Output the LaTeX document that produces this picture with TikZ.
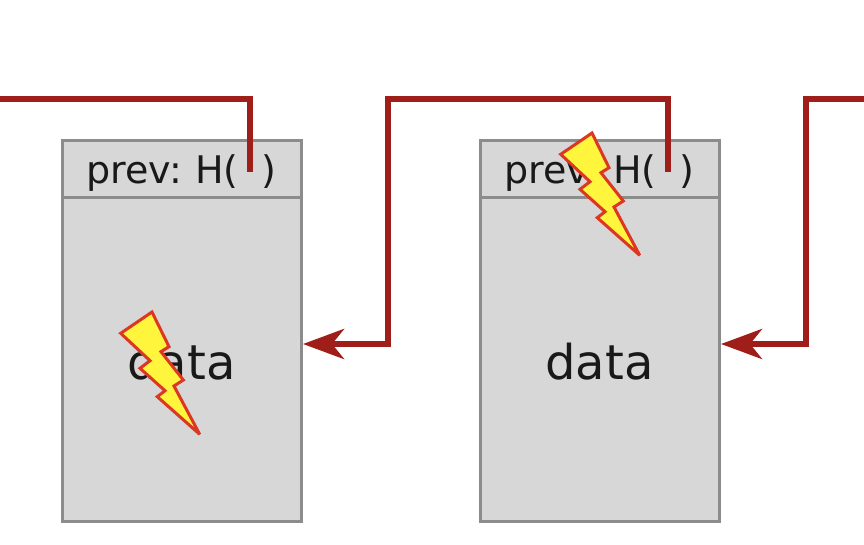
\documentclass[tikz,border=0pt]{standalone}
\usepackage{fontspec}
\setmainfont{DejaVu Sans}
\usetikzlibrary{positioning,arrows.meta}
\definecolor{boxfill}{RGB}{215,215,215}
\definecolor{boxline}{RGB}{140,140,140}
\definecolor{linkred}{RGB}{160,30,25}
\definecolor{boltline}{RGB}{220,55,35}
\definecolor{boltfill}{RGB}{255,245,60}
\definecolor{inktext}{RGB}{25,25,25}
\tikzset{
  hdr/.style = {draw=boxline, fill=boxfill, text=inktext, line width=3pt, outer sep=0pt, inner sep=0pt,
    minimum width=239pt, minimum height=57pt, text height=29pt, text depth=0pt,
    font=\fontsize{38}{42}\selectfont},
  body/.style = {draw=boxline, fill=boxfill, text=inktext, line width=3pt, outer sep=0pt, inner sep=0pt,
    minimum width=239pt, minimum height=323pt, text height=39pt, text depth=0pt,
    font=\fontsize{48}{52}\selectfont},
  link/.style = {draw=linkred, line width=6pt, line join=miter},
  linkarrow/.style = {link, shorten >=2pt, -{Stealth[length=41pt,width=30pt,inset=12pt]}},
  bolt/.pic = {
    \draw[draw=boltline, fill=boltfill, line width=3pt, line join=miter, miter limit=3]
      (0,0) -- (31.3,-21.3) -- (48.3,13.4) -- (40.3,18.4) -- (62.6,46.7) -- (53.3,52.7)
      -- (79,101) -- (36.6,63.4) -- (44.3,57.4) -- (19.3,35) -- (29.3,27.4) -- cycle;
  }
}
\begin{document}
\begin{tikzpicture}[x=1pt, y=-1pt]
  \useasboundingbox (0,0) rectangle (864,545);
  \node[hdr] (hdr_a) at (181.5,169.5) {prev:\hspace{-3pt} H(\hspace{23pt})};
  \node[body, below = 0pt of hdr_a] (body_a) {data};
  \node[hdr, right = 179pt of hdr_a] (hdr_b) {prev:\hspace{-3pt} H(\hspace{23pt})};
  \node[body, below = 0pt of hdr_b] (body_b) {data};
  %
  \coordinate (left_edge) at (0,99);
  \coordinate (right_edge) at (864,99);
  \coordinate (hash_a) at (250,172);
  \coordinate (hash_b) at (668,172);
  \coordinate (turn_a) at (388,344);
  \coordinate (turn_b) at (806,344);
  %
  \draw[link] (left_edge) -| (hash_a);
  \draw[linkarrow] (hash_b) |- (turn_a |- left_edge) -- (turn_a) -- (body_a.east |- turn_a);
  \draw[linkarrow] (right_edge) -| (turn_b) -- (body_b.east |- turn_b);
  %
  \pic at (120.7,333.3) {bolt};
  \pic at (560.7,154.3) {bolt};
\end{tikzpicture}
\end{document}
